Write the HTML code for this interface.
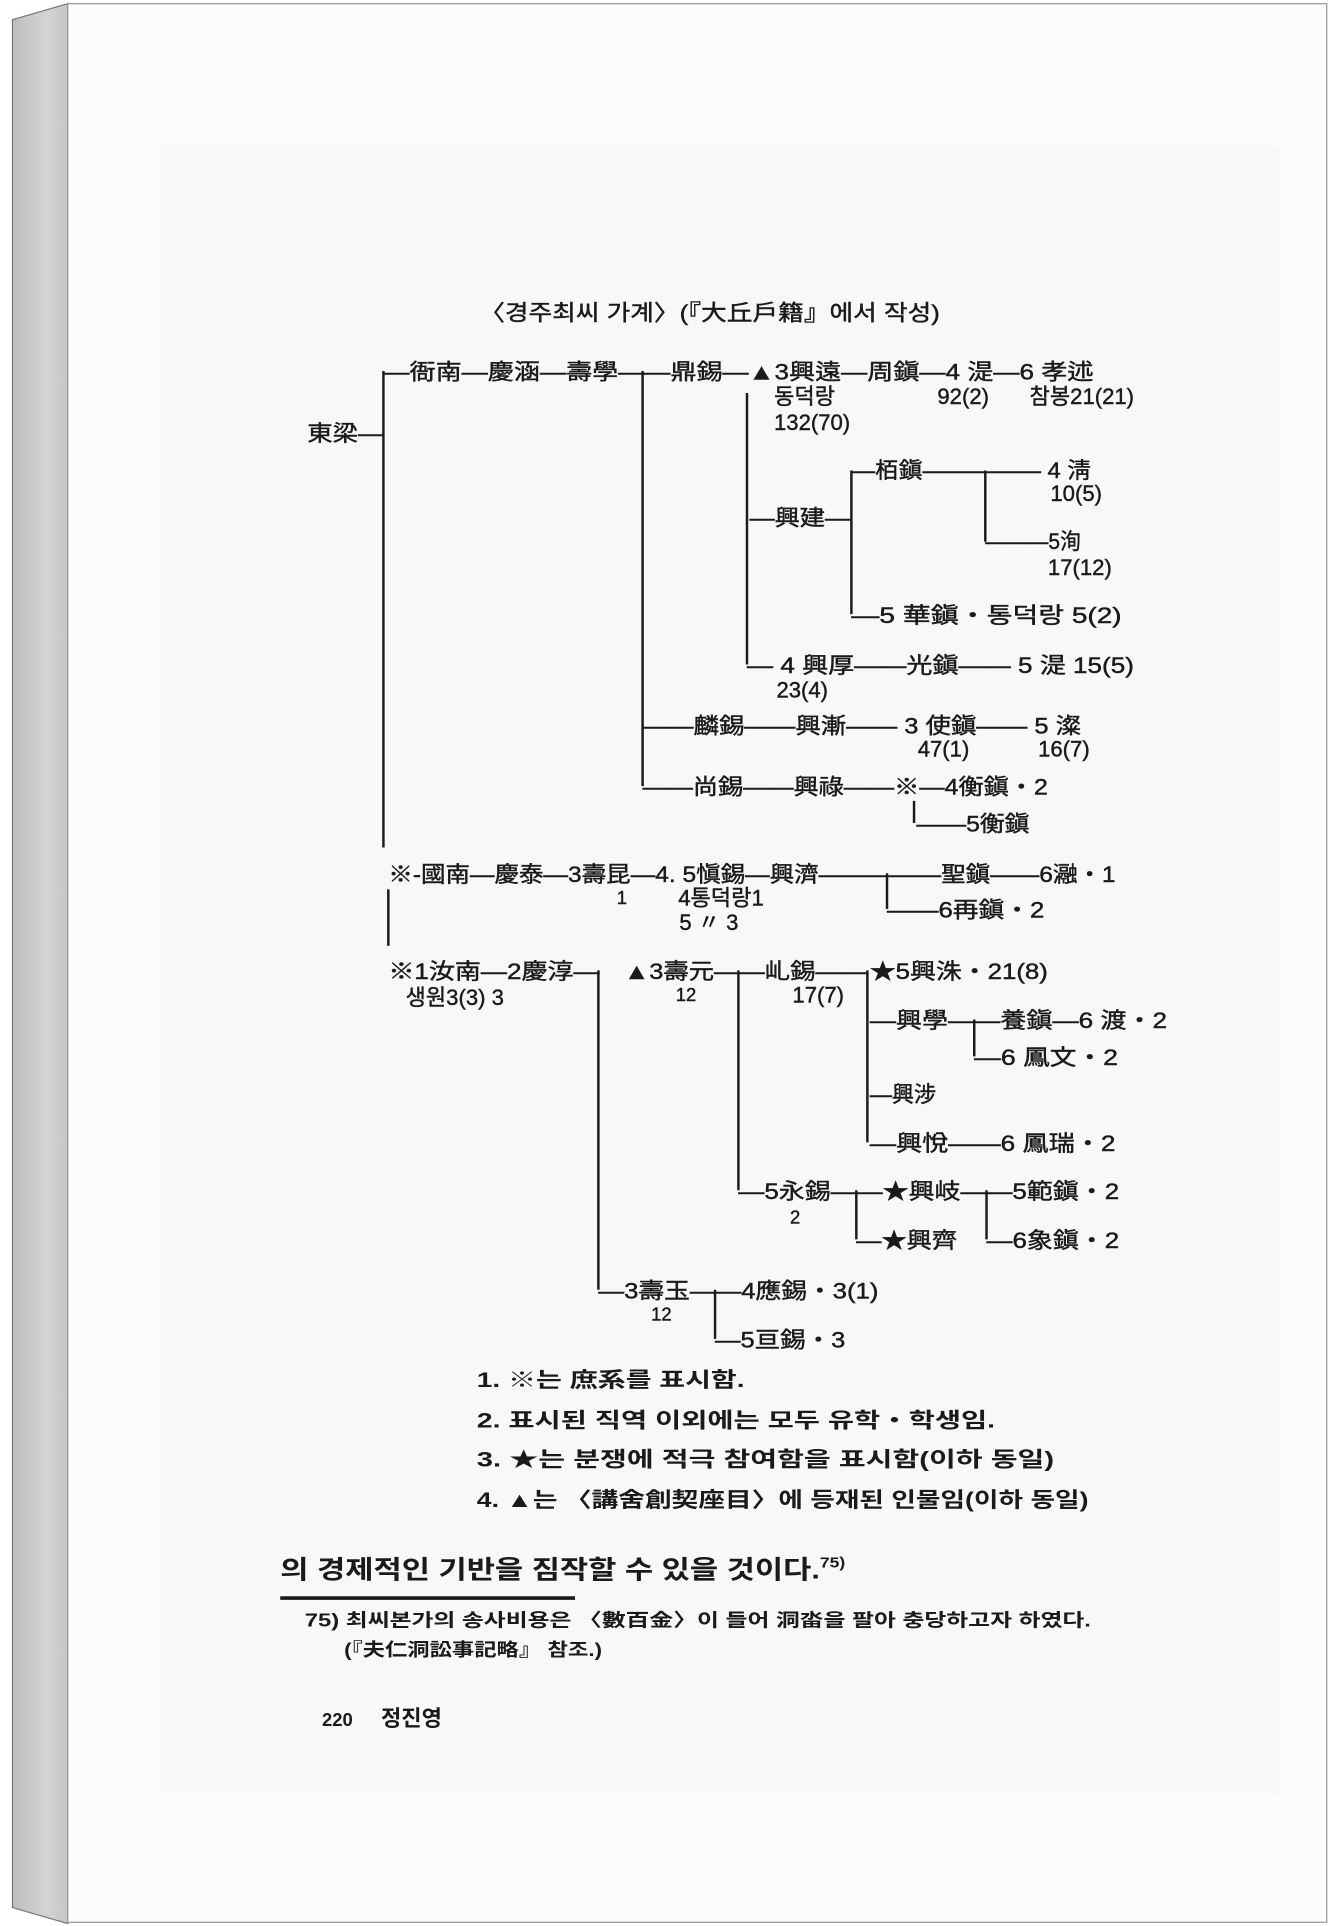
<!DOCTYPE html>
<html><head><meta charset="utf-8"><style>
html,body{margin:0;padding:0;background:#fff;}
svg{display:block;}
text{font-family:"Liberation Sans","Noto Sans CJK KR",sans-serif;fill:#1a1a1a;}
.t text{stroke:#1a1a1a;stroke-width:0.35;}
</style></head><body>
<svg width="1338" height="1926" viewBox="0 0 1089 1568" xmlns="http://www.w3.org/2000/svg">
<defs><linearGradient id="sp" x1="0" x2="1"><stop offset="0" stop-color="#bdbdbd"/><stop offset="0.6" stop-color="#d4d4d4"/><stop offset="1" stop-color="#c6c6c6"/></linearGradient></defs>
<rect width="1089" height="1568" fill="#fff"/>
<polygon points="10,16 55,3 55,1566 10,1553" fill="url(#sp)" stroke="#777" stroke-width="1"/>
<rect x="55" y="3" width="1025" height="1562" fill="#fbfbfa" stroke="#999" stroke-width="1"/>
<rect x="130" y="120" width="910" height="1340" fill="#f8f8f6"/>
<g stroke="#1a1a1a" stroke-width="2" fill="none">
<line x1="312" y1="302" x2="312" y2="690"/>
<line x1="316" y1="724" x2="316" y2="770"/>
<line x1="523" y1="302" x2="523" y2="640"/>
<line x1="608" y1="320" x2="608" y2="541"/>
<line x1="693" y1="383" x2="693" y2="500"/>
<line x1="802" y1="383" x2="802" y2="441"/>
<line x1="744" y1="652" x2="744" y2="670"/>
<line x1="722" y1="711" x2="722" y2="740"/>
<line x1="487" y1="790" x2="487" y2="1050"/>
<line x1="601" y1="790" x2="601" y2="969"/>
<line x1="706" y1="790" x2="706" y2="930"/>
<line x1="793" y1="830" x2="793" y2="860"/>
<line x1="697" y1="969" x2="697" y2="1009"/>
<line x1="803" y1="969" x2="803" y2="1009"/>
<line x1="582" y1="1050" x2="582" y2="1090"/>
</g>
<g font-size="18" class="t">
<text x="390" y="261" textLength="375" lengthAdjust="spacingAndGlyphs">〈경주최씨 가계〉(『大丘戶籍』에서 작성)</text>
<text x="250" y="359" textLength="62" lengthAdjust="spacingAndGlyphs">東梁—</text>
<text x="312" y="309" textLength="578" lengthAdjust="spacingAndGlyphs">—衙南—慶涵—壽學——鼎錫—▲3興遠—周鎭—4 湜—6 孝述</text>
<text x="630" y="329">동덕랑</text>
<text x="630" y="350">132(70)</text>
<text x="763" y="329">92(2)</text>
<text x="838" y="329">참봉21(21)</text>
<text x="693" y="389" textLength="195" lengthAdjust="spacingAndGlyphs">—栢鎭————— 4 淸</text>
<text x="855" y="408">10(5)</text>
<text x="610" y="428" textLength="82" lengthAdjust="spacingAndGlyphs">—興建—</text>
<text x="802" y="447" textLength="78" lengthAdjust="spacingAndGlyphs">———5洵</text>
<text x="853" y="468">17(12)</text>
<text x="693" y="507" textLength="220" lengthAdjust="spacingAndGlyphs">—5 華鎭・통덕랑  5(2)</text>
<text x="608" y="548" textLength="315" lengthAdjust="spacingAndGlyphs">— 4 興厚——光鎭—— 5 湜  15(5)</text>
<text x="632" y="568">23(4)</text>
<text x="523" y="597" textLength="357" lengthAdjust="spacingAndGlyphs">——麟錫——興漸—— 3 使鎭—— 5 澯</text>
<text x="747" y="616">47(1)</text>
<text x="845" y="616">16(7)</text>
<text x="523" y="647" textLength="330" lengthAdjust="spacingAndGlyphs">——尚錫——興祿——※—4衡鎭・2</text>
<text x="746" y="677" textLength="92" lengthAdjust="spacingAndGlyphs">——5衡鎭</text>
<text x="316" y="718" textLength="592" lengthAdjust="spacingAndGlyphs">※-國南—慶泰—3壽昆—4. 5愼錫—興濟—————聖鎭——6瀜・1</text>
<text x="502" y="736" font-size="15">1</text>
<text x="552" y="737">4통덕랑1</text>
<text x="553" y="757">5  〃  3</text>
<text x="722" y="747" textLength="128" lengthAdjust="spacingAndGlyphs">——6再鎭・2</text>
<text x="316" y="797" textLength="172" lengthAdjust="spacingAndGlyphs">※1汝南—2慶淳—</text>
<text x="330" y="818">생원3(3)   3</text>
<text x="508" y="797" textLength="197" lengthAdjust="spacingAndGlyphs">▲3壽元——乢錫——</text>
<text x="550" y="815" font-size="15">12</text>
<text x="645" y="816">17(7)</text>
<text x="708" y="797" textLength="145" lengthAdjust="spacingAndGlyphs">★5興洙・21(8)</text>
<text x="708" y="837" textLength="242" lengthAdjust="spacingAndGlyphs">—興學——養鎭—6 渡・2</text>
<text x="793" y="867" textLength="117" lengthAdjust="spacingAndGlyphs">—6 鳳文・2</text>
<text x="708" y="897">—興涉</text>
<text x="708" y="937" textLength="200" lengthAdjust="spacingAndGlyphs">—興悅——6 鳳瑞・2</text>
<text x="601" y="976" textLength="310" lengthAdjust="spacingAndGlyphs">—5永錫——★興岐——5範鎭・2</text>
<text x="643" y="996" font-size="15">2</text>
<text x="697" y="1016" textLength="82" lengthAdjust="spacingAndGlyphs">—★興齊</text>
<text x="803" y="1016" textLength="108" lengthAdjust="spacingAndGlyphs">—6象鎭・2</text>
<text x="487" y="1057" textLength="228" lengthAdjust="spacingAndGlyphs">—3壽玉——4應錫・3(1)</text>
<text x="530" y="1075" font-size="15">12</text>
<text x="582" y="1097" textLength="106" lengthAdjust="spacingAndGlyphs">—5亘錫・3</text>
</g>
<g font-size="17" font-weight="bold">
<text x="388" y="1129" textLength="218" lengthAdjust="spacingAndGlyphs">1. ※는 庶系를 표시함.</text>
<text x="388" y="1162" textLength="422" lengthAdjust="spacingAndGlyphs">2. 표시된 직역 이외에는 모두 유학・학생임.</text>
<text x="388" y="1194" textLength="470" lengthAdjust="spacingAndGlyphs">3. ★는 분쟁에 적극 참여함을 표시함(이하 동일)</text>
<text x="388" y="1227" textLength="498" lengthAdjust="spacingAndGlyphs">4. ▲는 〈講舍創契座目〉에 등재된 인물임(이하 동일)</text>
</g>
<text x="228" y="1285" font-size="21" font-weight="bold" textLength="460" lengthAdjust="spacingAndGlyphs">의 경제적인 기반을 짐작할 수 있을 것이다.<tspan font-size="12" dy="-9">75)</tspan></text>
<line x1="228" y1="1301" x2="468" y2="1301" stroke="#1a1a1a" stroke-width="3"/>
<g font-size="15" font-weight="bold">
<text x="248" y="1324" textLength="640" lengthAdjust="spacingAndGlyphs">75) 최씨본가의 송사비용은 〈數百金〉이 들어 洞畓을 팔아 충당하고자 하였다.</text>
<text x="280" y="1348" textLength="210" lengthAdjust="spacingAndGlyphs">(『夫仁洞訟事記略』 참조.)</text>
<text x="262" y="1405">220</text>
<text x="310" y="1405" font-size="18">정진영</text>
</g>
</svg>
</body></html>
